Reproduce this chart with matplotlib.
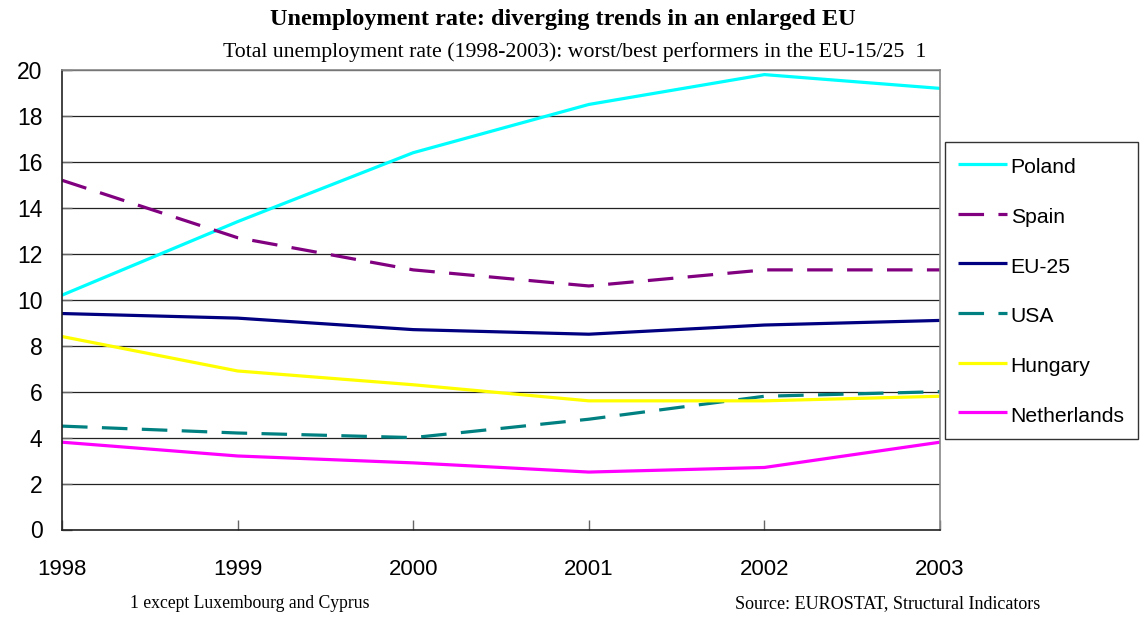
import matplotlib
matplotlib.use("Agg")
import matplotlib.pyplot as plt

years = [1998, 1999, 2000, 2001, 2002, 2003]
year_labels = ["1998", "1999", "2000", "2001", "2002", "2003"]
poland = [10.2, 13.4, 16.4, 18.5, 19.8, 19.2]
spain = [15.2, 12.7, 11.3, 10.6, 11.3, 11.3]
eu25 = [9.4, 9.2, 8.7, 8.5, 8.9, 9.1]
usa = [4.5, 4.2, 4.0, 4.8, 5.8, 6.0]
hungary = [8.4, 6.9, 6.3, 5.6, 5.6, 5.8]
netherlands = [3.8, 3.2, 2.9, 2.5, 2.7, 3.8]
y_ticks = [0, 2, 4, 6, 8, 10, 12, 14, 16, 18, 20]

series = [
    ("Poland", poland, "#00FFFF", "-"),
    ("Spain", spain, "#800080", "--"),
    ("EU-25", eu25, "#000080", "-"),
    ("USA", usa, "#008080", "--"),
    ("Hungary", hungary, "#FFFF00", "-"),
    ("Netherlands", netherlands, "#FF00FF", "-"),
]

fig = plt.figure(figsize=(11.44, 6.17), dpi=100)
ax = fig.add_axes([62 / 1144, 1 - 529.5 / 617, (940 - 62) / 1144, (529.5 - 70) / 617])

handles = []
for name, vals, color, ls in series:
    (ln,) = ax.plot(years, vals, color=color, lw=2.3, label=name, solid_capstyle="butt")
    if ls == "--":
        ln.set_dashes((8, 4.5))
    handles.append(ln)

ax.set_xlim(1998, 2003)
ax.set_ylim(0, 20)
ax.set_yticks(y_ticks)
ax.set_yticklabels([str(v) for v in y_ticks], fontfamily="Liberation Sans", fontsize=16.5)
ax.set_xticks(years)
ax.set_xticklabels(year_labels, fontfamily="Liberation Sans", fontsize=16)
ax.tick_params(axis="x", direction="in", length=7, width=1, color="#666666", pad=21)
ax.tick_params(axis="y", direction="in", length=7, width=1, color="#666666", pad=14)
ax.yaxis.grid(True, color="#222222", lw=0.9)
ax.set_axisbelow(True)
for s in ["left", "bottom"]:
    ax.spines[s].set_color("#222222")
    ax.spines[s].set_linewidth(1.2)
for s in ["top", "right"]:
    ax.spines[s].set_color("#888888")
    ax.spines[s].set_linewidth(1.2)

leg = fig.legend(handles=handles, loc="upper left",
                 bbox_to_anchor=(945 / 1144, 1 - 142 / 617),
                 prop={"family": "Liberation Sans", "size": 15.2},
                 frameon=True, fancybox=False, borderpad=0.61,
                 labelspacing=1.26, handleheight=1.3,
                 handlelength=2.35, handletextpad=0.15,
                 borderaxespad=0)
leg.get_frame().set_edgecolor("#000000")
leg.get_frame().set_linewidth(1.0)

fig.text(0.5 * (265 + 860) / 1144, 1 - 19 / 617,
         "Unemployment rate: diverging trends in an enlarged EU",
         ha="center", va="center", fontfamily="Liberation Serif",
         fontweight="bold", fontsize=17.5)
fig.text(0.5 * (220 + 930) / 1144, 1 - 52 / 617,
         "Total unemployment rate (1998-2003): worst/best performers in the EU-15/25  1",
         ha="center", va="center", fontfamily="Liberation Serif", fontsize=15.7)
fig.text(130 / 1144, 1 - 604 / 617, "1 except Luxembourg and Cyprus",
         ha="left", va="center", fontfamily="Liberation Serif", fontsize=12.7)
fig.text(735 / 1144, 1 - 604 / 617, "Source: EUROSTAT, Structural Indicators",
         ha="left", va="center", fontfamily="Liberation Serif", fontsize=13)

fig.savefig("out.png", dpi=100)
